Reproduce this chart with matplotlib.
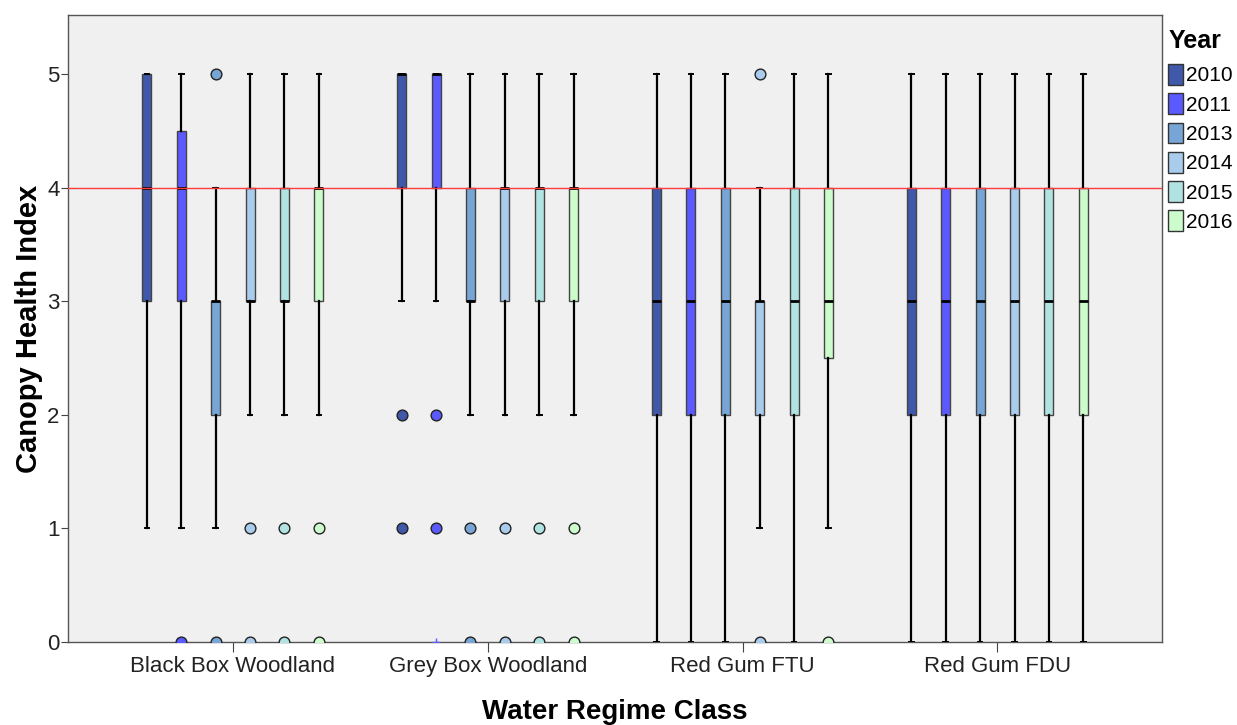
import matplotlib
matplotlib.use("Agg")
import matplotlib.pyplot as plt
from matplotlib.patches import Patch

plt.rcParams["font.family"] = ["Liberation Sans", "DejaVu Sans"]

groups = ["Black Box Woodland", "Grey Box Woodland", "Red Gum FTU", "Red Gum FDU"]
years = ["2010", "2011", "2013", "2014", "2015", "2016"]
colors = ["#3f58aa", "#5a5aff", "#77a6d6", "#a9cbec", "#b0e3e1", "#ccfccc"]

# per group, per year
q1 = [[3, 3, 2, 3, 3, 3], [4, 4, 3, 3, 3, 3], [2, 2, 2, 2, 2, 2.5], [2, 2, 2, 2, 2, 2]]
med = [[4, 4, 3, 3, 3, 4], [5, 5, 3, 4, 4, 4], [3, 3, 3, 3, 3, 3], [3, 3, 3, 3, 3, 3]]
q3 = [[5, 4.5, 3, 4, 4, 4], [5, 5, 4, 4, 4, 4], [4, 4, 4, 3, 4, 4], [4, 4, 4, 4, 4, 4]]
whislo = [[1, 1, 1, 2, 2, 2], [3, 3, 2, 2, 2, 2], [0, 0, 0, 1, 0, 1], [0, 0, 0, 0, 0, 0]]
whishi = [[5, 5, 4, 5, 5, 5], [5, 5, 5, 5, 5, 5], [5, 5, 5, 4, 5, 5], [5, 5, 5, 5, 5, 5]]
outliers = [
    [[], [0], [5, 0], [1, 0], [1, 0], [1, 0]],
    [[2, 1], [2, 1], [1, 0], [1, 0], [1, 0], [1, 0]],
    [[], [], [], [5, 0], [], [0]],
    [[], [], [], [], [], []],
]
extremes = [
    [[], [], [], [], [], []],
    [[], [0], [], [], [], []],
    [[], [], [], [], [], []],
    [[], [], [], [], [], []],
]
ref_line = 4

fig = plt.figure(figsize=(12.37, 7.25), dpi=100)
ax = fig.add_axes([0.055, 0.1145, 0.8845, 0.8645])
ax.set_facecolor("#f0f0f0")

step = 0.135
bw = 0.036
for g in range(len(groups)):
    for j in range(len(years)):
        pos = g + (j - 2.5) * step
        st = dict(q1=q1[g][j], med=med[g][j], q3=q3[g][j],
                  whislo=whislo[g][j], whishi=whishi[g][j], fliers=[])
        ax.bxp([st], positions=[pos], widths=bw, patch_artist=True,
               showfliers=False,
               boxprops=dict(facecolor=colors[j], edgecolor="#444444", linewidth=1.0),
               medianprops=dict(color="black", linewidth=2.0),
               whiskerprops=dict(color="black", linewidth=1.6),
               capprops=dict(color="black", linewidth=1.4),
               manage_ticks=False, zorder=3)
        if outliers[g][j]:
            ax.scatter([pos] * len(outliers[g][j]), outliers[g][j], s=60,
                       facecolor=colors[j], edgecolor="#222222", linewidth=1.0, zorder=4)
        if extremes[g][j]:
            ax.scatter([pos] * len(extremes[g][j]), extremes[g][j], s=30,
                       marker="+", color=colors[j], linewidth=1.0, zorder=4)

ax.axhline(ref_line, color="#ff3b3b", linewidth=1.0, zorder=5)

ax.set_xlim(-0.647, 3.647)
ax.set_ylim(0, 5.52)
ax.set_xticks(range(len(groups)))
ax.set_xticklabels(groups, fontsize=16, color="#222222")
ax.set_yticks(range(6))
ax.tick_params(axis="y", labelsize=16, length=5, pad=1, color="#444444", labelcolor="#222222")
ax.tick_params(axis="x", length=7, pad=3, color="#444444")
for s in ax.spines.values():
    s.set_color("#555555")
    s.set_linewidth(1.0)

ax.set_xlabel("Water Regime Class", fontsize=20, fontweight="bold", labelpad=16)
ax.set_ylabel("Canopy Health Index", fontsize=21, fontweight="bold", labelpad=3)

handles = [Patch(facecolor=c, edgecolor="#333333", linewidth=1.0) for c in colors]
leg = fig.legend(handles, years, loc="upper left", bbox_to_anchor=(0.941, 0.966),
                 frameon=False, fontsize=15, title="Year",
                 title_fontproperties=dict(weight="bold", size=18),
                 handlelength=0.7, handleheight=1.15, handletextpad=0.15,
                 labelspacing=0.38, borderaxespad=0.0, borderpad=0.2)
leg._legend_box.align = "left"
leg._legend_box.sep = 8

fig.savefig("out.png", dpi=100)
